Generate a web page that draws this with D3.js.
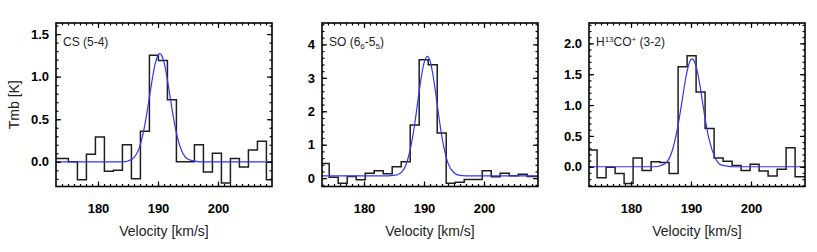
<!DOCTYPE html>
<html>
<head>
<meta charset="utf-8">
<script src="https://cdn.jsdelivr.net/npm/d3@7"></script>
<style>
body { margin: 0; background: #fff; }
svg { display: block; font-family: "Liberation Sans", Arial, Helvetica, sans-serif; }
</style>
</head>
<body>
<svg id="canvas" width="817" height="252"></svg>
<script>
const channelWidth = 1.5;
const velocityDomain = [173, 209];
const velocityTicks = [180, 190, 200];

const csVelocity = [172.82, 174.32, 175.82, 177.32, 178.82, 180.32, 181.82, 183.32, 184.82, 186.32, 187.82, 189.32, 190.82, 192.32, 193.82, 195.32, 196.82, 198.32, 199.82, 201.32, 202.82, 204.32, 205.82, 207.32, 208.82];
const csTmb = [0.04, 0.04, 0.0, -0.21, 0.09, 0.29, -0.11, -0.10, 0.20, -0.20, 0.36, 1.25, 1.19, 0.73, 0.0, 0.0, 0.20, -0.12, 0.10, -0.25, 0.04, -0.06, 0.14, 0.24, -0.21];
const csFitVelocity = [173, 184, 185, 186, 187, 188, 188.5, 189, 189.5, 190, 190.3, 190.6, 191, 191.5, 192, 192.5, 193, 194, 195, 196, 197, 209];
const csFitTmb = [0, 0, 0.01, 0.05, 0.19, 0.51, 0.73, 0.95, 1.14, 1.25, 1.27, 1.25, 1.17, 0.99, 0.77, 0.55, 0.36, 0.12, 0.03, 0.01, 0, 0];

const soVelocity = [173.45, 174.95, 176.45, 177.95, 179.45, 180.95, 182.45, 183.95, 185.45, 186.95, 188.45, 189.95, 191.45, 192.95, 194.45, 195.95, 197.45, 198.95, 200.45, 201.95, 203.45, 204.95, 206.45, 207.95, 209.45];
const soTmb = [0.44, 0.03, -0.15, 0.05, -0.05, 0.15, 0.22, 0.13, 0.34, 0.49, 1.59, 3.54, 3.39, 1.35, -0.15, -0.12, -0.04, -0.04, 0.22, 0.04, 0.15, 0.07, 0.12, 0.05, 0.05];
const soFitVelocity = [173, 184, 185, 186, 187, 188, 188.5, 189, 189.5, 190, 190.55, 191, 191.5, 192, 192.5, 193, 194, 195, 196, 197, 209];
const soFitTmb = [0.07, 0.07, 0.08, 0.14, 0.40, 1.12, 1.68, 2.34, 2.97, 3.44, 3.64, 3.51, 3.08, 2.47, 1.81, 1.22, 0.45, 0.16, 0.08, 0.07, 0.07];

const hcoVelocity = [173.6, 175.1, 176.6, 178.1, 179.6, 181.1, 182.6, 184.1, 185.6, 187.1, 188.6, 190.1, 191.6, 193.1, 194.6, 196.1, 197.6, 199.1, 200.6, 202.1, 203.6, 205.1, 206.6, 208.1, 209.6];
const hcoTmb = [0.27, -0.18, -0.01, -0.11, -0.27, 0.14, -0.06, 0.08, 0.07, -0.11, 1.62, 1.80, 1.21, 0.62, 0.14, 0.09, 0.02, -0.06, 0.04, -0.07, -0.15, -0.04, 0.31, -0.16, -0.16];
const hcoFitVelocity = [173, 184, 185, 186, 187, 188, 188.5, 189, 189.5, 190, 190.2, 190.5, 191, 191.5, 192, 192.5, 193, 194, 195, 196, 197, 209];
const hcoFitTmb = [0, 0, 0.02, 0.08, 0.30, 0.76, 1.06, 1.37, 1.61, 1.74, 1.75, 1.72, 1.57, 1.31, 1.00, 0.70, 0.45, 0.15, 0.03, 0.01, 0, 0];

// line labels: [text, "sub" | "sup" | ""]
const csLabel = [["CS (5-4)", ""]];
const soLabel = [["SO (6", ""], ["6", "sub"], ["-5", ""], ["5", "sub"], [")", ""]];
const hcoLabel = [["H", ""], ["13", "sup"], ["CO", ""], ["+", "sup"], [" (3-2)", ""]];

const panels = [
	{label: csLabel, velocity: csVelocity, tmb: csTmb, fitV: csFitVelocity, fitT: csFitTmb,
		yDomain: [-0.29, 1.63], yTicks: [0, 0.5, 1.0, 1.5], yMinor: 0.1, format: ".1f"},
	{label: soLabel, velocity: soVelocity, tmb: soTmb, fitV: soFitVelocity, fitT: soFitTmb,
		yDomain: [-0.25, 4.64], yTicks: [0, 1, 2, 3, 4], yMinor: 0.2, format: "d"},
	{label: hcoLabel, velocity: hcoVelocity, tmb: hcoTmb, fitV: hcoFitVelocity, fitT: hcoFitTmb,
		yDomain: [-0.32, 2.33], yTicks: [0, 0.5, 1.0, 1.5, 2.0], yMinor: 0.1, format: ".1f"}
];

const panelLeft = [56, 322, 589];
const panelWidth = 216;
const plotTop = 23;
const plotBottom = 186.5;
const shift = {"": 0, "sub": 3, "sup": -4};

let canvas = d3.select("#canvas");

let styleAxis = (g) => {
	g.select(".domain").remove();
	g.selectAll(".tick line").attr("stroke", "#000").attr("stroke-width", 1.2);
	g.selectAll("text")
		.attr("font-family", "Liberation Sans, Arial, sans-serif")
		.attr("font-size", 13)
		.attr("font-weight", "bold")
		.attr("fill", "#000");
};

panels.forEach((p, i) => {
	let left = panelLeft[i];
	let x = d3.scaleLinear().domain(velocityDomain).range([left, left + panelWidth]);
	let y = d3.scaleLinear().domain(p.yDomain).range([plotBottom, plotTop]);
	let g = canvas.append("g");

	g.append("clipPath").attr("id", "clip" + i)
		.append("rect")
		.attr("x", left).attr("y", plotTop)
		.attr("width", panelWidth).attr("height", plotBottom - plotTop);

	let steps = [];
	p.velocity.forEach((v, k) => {
		steps.push([v - channelWidth / 2, p.tmb[k]]);
		steps.push([v + channelWidth / 2, p.tmb[k]]);
	});

	g.append("path")
		.attr("clip-path", "url(#clip" + i + ")")
		.attr("d", d3.line().x((d) => x(d[0])).y((d) => y(d[1]))(steps))
		.attr("fill", "none")
		.attr("stroke", "#1e1e1e")
		.attr("stroke-width", 1.5);

	g.append("path")
		.attr("clip-path", "url(#clip" + i + ")")
		.attr("d", d3.line()
			.x((d, k) => x(p.fitV[k]))
			.y((d) => y(d))
			.curve(d3.curveMonotoneX)(p.fitT))
		.attr("fill", "none")
		.attr("stroke", "#3434f4")
		.attr("stroke-width", 1.2);

	let xMinor = d3.range(velocityDomain[0] + 1, velocityDomain[1], 1);
	let yMinor = d3.range(Math.ceil(p.yDomain[0] / p.yMinor) * p.yMinor, p.yDomain[1], p.yMinor);

	g.append("g").attr("transform", `translate(0,${plotBottom})`)
		.call(d3.axisBottom(x).tickValues(xMinor).tickSize(-2.5).tickFormat(""))
		.call(styleAxis);
	g.append("g").attr("transform", `translate(0,${plotTop})`)
		.call(d3.axisTop(x).tickValues(xMinor).tickSize(-2.5).tickFormat(""))
		.call(styleAxis);
	g.append("g").attr("transform", `translate(${left},0)`)
		.call(d3.axisLeft(y).tickValues(yMinor).tickSize(-2.5).tickFormat(""))
		.call(styleAxis);
	g.append("g").attr("transform", `translate(${left + panelWidth},0)`)
		.call(d3.axisRight(y).tickValues(yMinor).tickSize(-2.5).tickFormat(""))
		.call(styleAxis);

	g.append("g").attr("transform", `translate(0,${plotBottom})`)
		.call(d3.axisBottom(x).tickValues(velocityTicks).tickSize(-5).tickPadding(17).tickFormat(d3.format("d")))
		.call(styleAxis);
	g.append("g").attr("transform", `translate(0,${plotTop})`)
		.call(d3.axisTop(x).tickValues(velocityTicks).tickSize(-5).tickFormat(""))
		.call(styleAxis);
	g.append("g").attr("transform", `translate(${left},0)`)
		.call(d3.axisLeft(y).tickValues(p.yTicks).tickSize(-5).tickPadding(7).tickFormat(d3.format(p.format)))
		.call(styleAxis);
	g.append("g").attr("transform", `translate(${left + panelWidth},0)`)
		.call(d3.axisRight(y).tickValues(p.yTicks).tickSize(-5).tickFormat(""))
		.call(styleAxis);

	g.append("rect")
		.attr("x", left).attr("y", plotTop)
		.attr("width", panelWidth).attr("height", plotBottom - plotTop)
		.attr("fill", "none")
		.attr("stroke", "#000")
		.attr("stroke-width", 1.6);

	let label = g.append("text")
		.attr("x", left + 7)
		.attr("y", plotTop + 23)
		.attr("font-size", 12)
		.attr("fill", "#222");
	let current = 0;
	p.label.forEach((part) => {
		let t = label.append("tspan")
			.attr("dy", shift[part[1]] - current)
			.text(part[0]);
		if(part[1] !== "") {
			t.attr("font-size", 8);
		}
		current = shift[part[1]];
	});

	g.append("text")
		.attr("x", left + panelWidth / 2)
		.attr("y", 236)
		.attr("text-anchor", "middle")
		.attr("font-size", 14)
		.attr("fill", "#222")
		.text("Velocity [km/s]");
});

canvas.append("text")
	.attr("transform", `translate(19,${(plotTop + plotBottom) / 2}) rotate(-90)`)
	.attr("text-anchor", "middle")
	.attr("font-size", 14)
	.attr("fill", "#222")
	.text("Tmb [K]");
</script>
</body>
</html>
